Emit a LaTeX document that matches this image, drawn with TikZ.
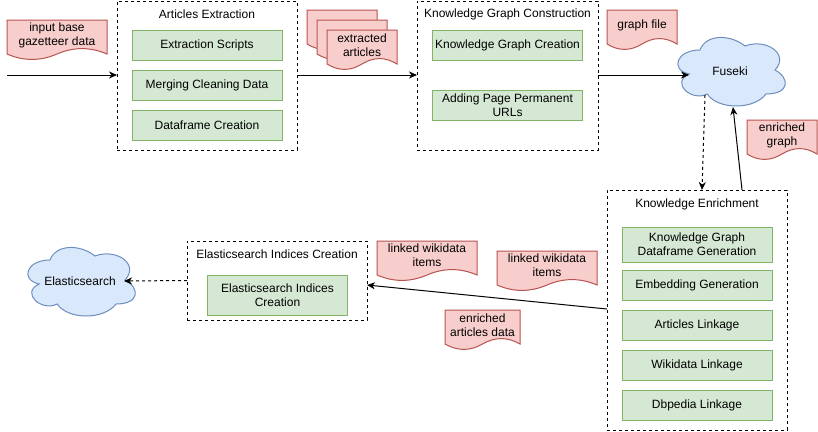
\documentclass[tikz,border=0pt]{standalone}
\usepackage{fontspec}
\setmainfont{Liberation Sans}
\usetikzlibrary{arrows.meta}
\definecolor{gfill}{HTML}{D5E8D4}
\definecolor{gline}{HTML}{82B366}
\definecolor{pfill}{HTML}{F8CECC}
\definecolor{pline}{HTML}{B85450}
\definecolor{bfill}{HTML}{DAE8FC}
\definecolor{bline}{HTML}{6C8EBF}
\newcommand{\docu}[4]{% x y w h
  \draw[docst] (#1,#2) -- ({#1+#3},#2) -- ({#1+#3},{#2+0.85*#4})
    .. controls ({#1+0.8333*#3},{#2+0.67*#4}) and ({#1+0.6667*#3},{#2+0.67*#4}) .. ({#1+0.5*#3},{#2+0.85*#4})
    .. controls ({#1+0.3333*#3},{#2+1.03*#4}) and ({#1+0.1667*#3},{#2+1.03*#4}) .. (#1,{#2+0.85*#4}) -- cycle;}
\newcommand{\cloudsh}[4]{% x y w h
  \draw[cloudst] ({#1+0.25*#3},{#2+0.25*#4})
    .. controls ({#1+0.05*#3},{#2+0.25*#4}) and (#1,{#2+0.5*#4}) .. ({#1+0.16*#3},{#2+0.55*#4})
    .. controls (#1,{#2+0.66*#4}) and ({#1+0.18*#3},{#2+0.9*#4}) .. ({#1+0.31*#3},{#2+0.8*#4})
    .. controls ({#1+0.4*#3},{#2+#4}) and ({#1+0.7*#3},{#2+#4}) .. ({#1+0.8*#3},{#2+0.8*#4})
    .. controls ({#1+#3},{#2+0.8*#4}) and ({#1+#3},{#2+0.6*#4}) .. ({#1+0.875*#3},{#2+0.5*#4})
    .. controls ({#1+#3},{#2+0.3*#4}) and ({#1+0.8*#3},{#2+0.1*#4}) .. ({#1+0.625*#3},{#2+0.2*#4})
    .. controls ({#1+0.5*#3},{#2+0.05*#4}) and ({#1+0.3*#3},{#2+0.05*#4}) .. ({#1+0.25*#3},{#2+0.25*#4}) -- cycle;}
\begin{document}
\begin{tikzpicture}[x=1pt,y=-1pt,
  font=\fontsize{12}{14}\selectfont,
  every node/.style={inner sep=0pt, outer sep=0pt},
  cont/.style={draw=black, line width=1pt, dash pattern=on 3pt off 3pt},
  gbox/.style={draw=gline, fill=gfill, line width=1pt, minimum width=150pt, minimum height=30pt, align=center},
  docst/.style={draw=pline, fill=pfill, line width=1pt},
  cloudst/.style={draw=bline, fill=bfill, line width=1pt},
  txt/.style={align=center},
  conn/.style={draw=black, line width=1pt, -{Stealth[length=8pt,width=7pt,inset=2.5pt]}},
  dconn/.style={conn, dash pattern=on 3pt off 3pt}]
\useasboundingbox (0,0) rectangle (818,431);
\fill[white] (0,0) rectangle (818,431);

% containers
\node[cont, minimum width=180pt, minimum height=149pt] (ae) at (207,75.5) {};
\node[txt] (aeT) at (207,14) {Articles Extraction};
\node[gbox] (ae1) at (207,45) {Extraction Scripts};
\node[gbox] (ae2) at (207,85) {Merging Cleaning Data};
\node[gbox] (ae3) at (207,125) {Dataframe Creation};

\node[cont, minimum width=181pt, minimum height=149pt] (kgc) at (507.5,75.5) {};
\node[txt] (kgcT) at (507.5,14) {Knowledge Graph Construction};
\node[gbox] (kg1) at (507.5,45) {Knowledge Graph Creation};
\node[gbox] (kg2) at (507.5,105) {Adding Page Permanent\\URLs};

\node[cont, minimum width=180pt, minimum height=240pt] (ke) at (697,310) {};
\node[txt] (keT) at (697,204) {Knowledge Enrichment};
\node[gbox, minimum height=35pt] (ke1) at (697,244.5) {Knowledge Graph\\Dataframe Generation};
\node[gbox] (ke2) at (697,285) {Embedding Generation};
\node[gbox] (ke3) at (697,325) {Articles Linkage};
\node[gbox] (ke4) at (697,365) {Wikidata Linkage};
\node[gbox] (ke5) at (697,405) {Dbpedia Linkage};

\node[cont, minimum width=180pt, minimum height=79pt] (esc) at (277,280.5) {};
\node[txt] (escT) at (277,254) {Elasticsearch Indices Creation};
\node[gbox, minimum width=140pt, minimum height=40pt] (es1) at (277.5,295) {Elasticsearch Indices\\Creation};

% documents
\docu{7}{20}{100}{40}
\node[txt] (inp) at (57,35) {input base\\gazetteer data};
\docu{307}{10}{70}{40}
\docu{317}{20}{70}{40}
\docu{327}{30}{70}{40}
\node[txt] (exa) at (362,45) {extracted\\articles};
\docu{607}{10}{70}{40}
\node[txt] (gf) at (642,25) {graph file};
\docu{747}{120}{70}{40}
\node[txt] (eg) at (782,135) {enriched\\graph};
\docu{377}{241}{100}{40}
\node[txt] (lw1) at (427,255) {linked wikidata\\items};
\docu{497}{251}{100}{40}
\node[txt] (lw2) at (547,265) {linked wikidata\\items};
\docu{445}{310}{75}{40}
\node[txt] (ead) at (482.5,325) {enriched\\articles data};

% clouds
\cloudsh{670}{30}{120}{80}
\node (fus) at (730,71) {Fuseki};
\cloudsh{20}{240}{120}{80}
\node (els) at (80,281) {Elasticsearch};

% coordinates
\coordinate (start) at (7,75);
\coordinate (fusL) at (689,75);
\coordinate (fusB1) at (705,95);
\coordinate (fusB2) at (733,107);
\coordinate (keA) at (702,190);
\coordinate (keB) at (742,190);
\coordinate (escIn) at (367,285);
\coordinate (keOut) at (607,309);
\coordinate (elsR) at (124,281);

% connectors
\draw[conn] (start) -- (ae.west |- start);
\draw[conn] (ae.east |- start) -- (kgc.west |- start);
\draw[conn] (kgc.east |- start) -- (fusL);
\draw[dconn] (fusB1) -- (keA);
\draw[conn] (keB) -- (fusB2);
\draw[conn] (keOut) -- (escIn);
\draw[dconn] (esc.west) -- (elsR);
\end{tikzpicture}
\end{document}
